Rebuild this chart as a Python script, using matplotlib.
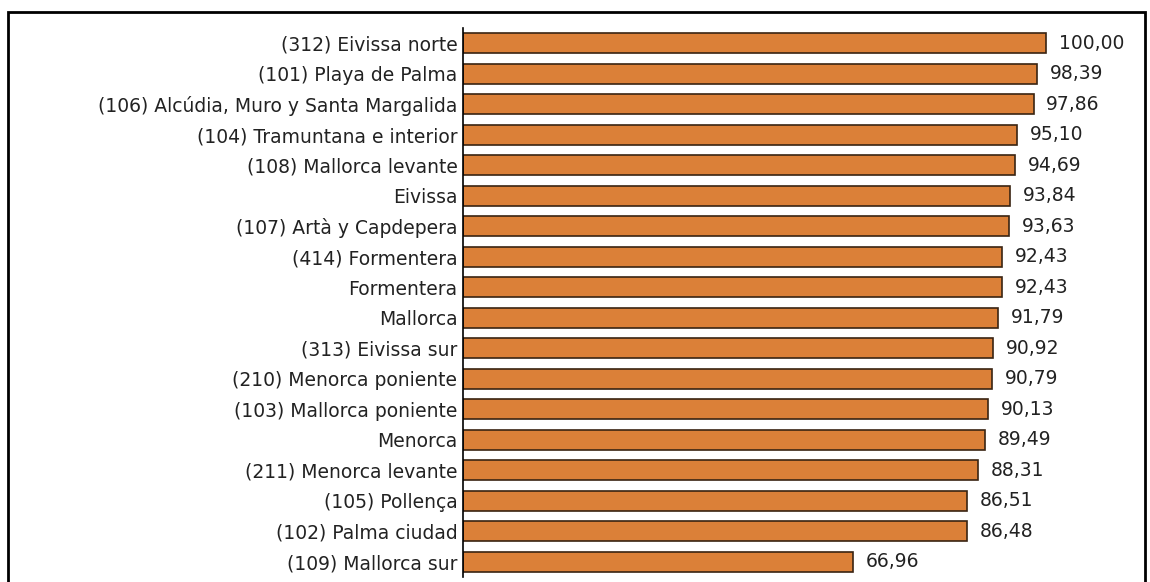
import matplotlib
matplotlib.use("Agg")
import matplotlib.pyplot as plt
from matplotlib.patches import Rectangle

labels = ["(312) Eivissa norte", "(101) Playa de Palma", "(106) Alcúdia, Muro y Santa Margalida",
          "(104) Tramuntana e interior", "(108) Mallorca levante", "Eivissa",
          "(107) Artà y Capdepera", "(414) Formentera", "Formentera", "Mallorca",
          "(313) Eivissa sur", "(210) Menorca poniente", "(103) Mallorca poniente",
          "Menorca", "(211) Menorca levante", "(105) Pollença", "(102) Palma ciudad",
          "(109) Mallorca sur"]
values = [100.00, 98.39, 97.86, 95.10, 94.69, 93.84, 93.63, 92.43, 92.43, 91.79,
          90.92, 90.79, 90.13, 89.49, 88.31, 86.51, 86.48, 66.96]

W, H = 1150, 582
fig = plt.figure(figsize=(W/100, H/100), dpi=100)
fig.patches.append(Rectangle((8/W, -0.05), (1145-8)/W, (H-12)/H + 0.05, transform=fig.transFigure,
                             fill=False, edgecolor="black", linewidth=2))
ax = fig.add_axes([463/W, 1-577/H, (1140-463)/W, (577-28)/H])
y = list(range(len(labels)))
ax.barh(y, values, height=0.66, color="#DB8038", edgecolor="#3A2412", linewidth=1.2)
ax.set_ylim(len(labels)-0.5, -0.5)
ax.set_xlim(0, 100*(1140-463)/(1046-463))
for s in ["top", "right", "bottom"]:
    ax.spines[s].set_visible(False)
ax.spines["left"].set_linewidth(1.2)
ax.set_xticks([])
ax.set_yticks(y)
ax.set_yticklabels(labels, fontsize=13.5, color="#222222", family="DejaVu Sans")
ax.tick_params(axis="y", length=0, pad=4)
for yi, v in zip(y, values):
    ax.text(v + 2.2, yi, f"{v:.2f}".replace(".", ","), va="center", ha="left",
            fontsize=13.5, color="#222222")
fig.savefig("out.png", dpi=100)
